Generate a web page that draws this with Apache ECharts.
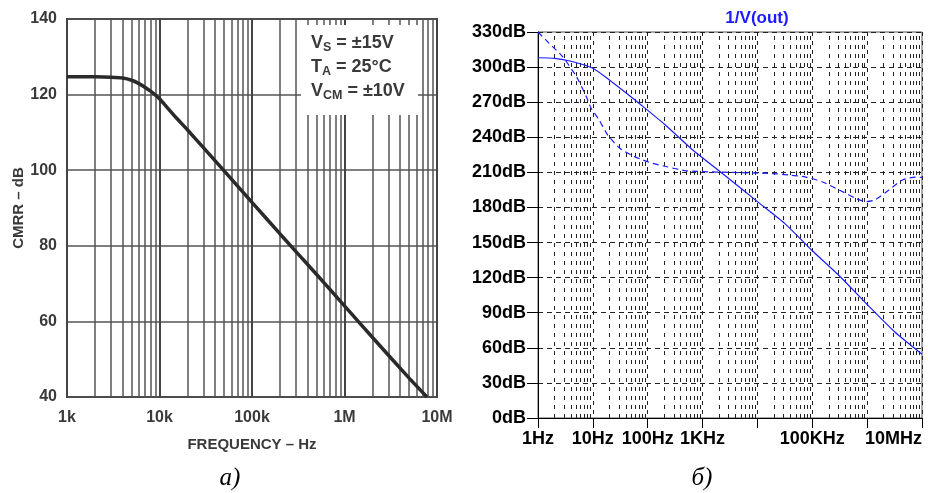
<!DOCTYPE html>
<html><head><meta charset="utf-8">
<script src="https://cdn.jsdelivr.net/npm/echarts@6/dist/echarts.min.js"></script>
<style>html,body{margin:0;padding:0;background:#fff}#c{width:928px;height:493px}</style>
</head><body><div id="c"></div>
<script>
// ---- Chart (а): CMRR vs frequency ----
const leftFreq = [1000, 2000, 3000, 4000, 5000, 6000, 7000, 8000, 9000, 10000, 12000, 15000, 20000, 30000, 50000, 100000, 200000, 500000, 1000000, 2000000, 5000000, 7800000];
const leftCmrr = [124.7, 124.7, 124.6, 124.4, 123.8, 122.9, 121.9, 120.9, 119.9, 118.9, 116.7, 114.0, 110.7, 105.9, 99.8, 91.5, 83.2, 72.4, 64.1, 55.8, 45.0, 40.0];
const leftXTicks = [1000, 10000, 100000, 1000000, 10000000];
const leftXTickLabels = ['1k', '10k', '100k', '1M', '10M'];
const leftYMin = 40, leftYMax = 140, leftYStep = 20;
const leftXName = 'FREQUENCY – Hz';
const leftYName = 'CMRR – dB';

// ---- Chart (б): 1/V(out) ----
const solidFreq = [1, 2, 4, 10, 20, 40, 100, 210, 630, 2300, 10000, 32000, 100000, 320000, 1000000, 3200000, 10000000];
const solidDb = [308, 307.5, 305, 299, 289, 278, 263, 250.5, 230, 209, 185, 166, 143, 121, 97, 73.5, 54.5];
const dashedFreq = [1, 1.6, 2.8, 5, 7.6, 9.3, 13, 18.6, 31, 50, 81, 123, 214, 500, 2000, 19000, 38000, 76000, 150000, 310000, 620000, 950000, 1400000, 2500000, 4400000, 7600000, 10000000];
const dashedDb = [330, 320.3, 309, 292, 274.7, 264.8, 254.8, 242, 230.6, 224.8, 220.6, 217.7, 215, 211.4, 210.2, 209, 207.7, 206, 202, 195, 187.8, 185, 186.5, 195, 203.5, 206, 205.7];
const rightXTicks = [1, 10, 100, 1000, 10000, 100000, 1000000, 10000000];
const rightXTickLabels = ['1Hz', '10Hz', '100Hz', '1KHz', '', '100KHz', '', '10MHz'];
const rightYMin = 0, rightYMax = 330, rightYStep = 30;
const rightTitle = '1/V(out)';

const captions = ['а)', 'б)'];

function minorValues(ticks) {
  const out = [];
  for (let i = 0; i < ticks.length - 1; i++) for (let m = 2; m <= 9; m++) out.push(ticks[i] * m);
  return out;
}
function lookup(ticks, labels) {
  return function (v) {
    for (let i = 0; i < ticks.length; i++) if (Math.abs(Math.log10(v) - Math.log10(ticks[i])) < 1e-6) return labels[i];
    return '';
  };
}
function zip(a, b) { return a.map((x, i) => [x, b[i]]); }

const sans = 'Liberation Sans, Arial, sans-serif';
const blue = '#1c1cff';
const grey = '#3a3a3a';
const richLegend = {
  m: { fontSize: 18, fontWeight: 'bold', fontFamily: sans, fill: grey, lineHeight: 22 },
  s: { fontSize: 12.5, fontWeight: 'bold', fontFamily: sans, fill: grey, lineHeight: 12, verticalAlign: 'bottom' }
};

const option = {
  animation: false,
  grid: [
    { left: 67, top: 19, width: 370, height: 378, show: true, borderColor: '#3a3a3a', borderWidth: 2, backgroundColor: 'transparent' },
    { left: 538, top: 32, width: 384, height: 386, show: true, borderColor: '#555', borderWidth: 1, backgroundColor: 'transparent' }
  ],
  xAxis: [
    {
      type: 'log', gridIndex: 0, min: leftXTicks[0], max: leftXTicks[leftXTicks.length - 1], splitNumber: 4, logBase: 10,
      axisLine: { show: false }, axisTick: { show: false },
      axisLabel: { formatter: lookup(leftXTicks, leftXTickLabels), color: grey, fontWeight: 'bold', fontSize: 16, fontFamily: sans, margin: 13 },
      splitLine: { show: true, lineStyle: { color: '#444', width: 2 } },
      name: leftXName, nameLocation: 'middle', nameGap: 40,
      nameTextStyle: { color: grey, fontWeight: 'bold', fontSize: 15, fontFamily: sans }
    },
    {
      type: 'log', gridIndex: 1, min: rightXTicks[0], max: rightXTicks[rightXTicks.length - 1], splitNumber: 7, logBase: 10,
      axisLine: { show: true, lineStyle: { color: '#000', width: 1 } },
      axisTick: { show: true, length: 10, lineStyle: { color: '#000', width: 1 } },
      axisLabel: { formatter: lookup(rightXTicks, rightXTickLabels), color: '#000', fontWeight: 'bold', fontSize: 18, fontFamily: sans, margin: 12, alignMaxLabel: 'right', showMaxLabel: true, showMinLabel: true, hideOverlap: false },
      splitLine: { show: true, lineStyle: { color: '#222', width: 1, type: [4, 5] } }
    }
  ],
  yAxis: [
    {
      type: 'value', gridIndex: 0, min: leftYMin, max: leftYMax, interval: leftYStep,
      axisLine: { show: false }, axisTick: { show: false },
      axisLabel: { color: grey, fontWeight: 'bold', fontSize: 16, fontFamily: sans, margin: 10 },
      splitLine: { show: true, lineStyle: { color: '#555', width: 1.5 } },
      name: leftYName, nameLocation: 'middle', nameGap: 41, nameRotate: 90,
      nameTextStyle: { color: grey, fontWeight: 'bold', fontSize: 15, fontFamily: sans }
    },
    {
      type: 'value', gridIndex: 1, min: rightYMin, max: rightYMax, interval: rightYStep,
      axisLine: { show: true, lineStyle: { color: '#000', width: 1 } },
      axisTick: { show: true, length: 11, lineStyle: { color: '#000', width: 1 } },
      axisLabel: { formatter: v => v + 'dB', color: '#000', fontWeight: 'bold', fontSize: 18, fontFamily: sans, margin: 12 },
      splitLine: { show: true, lineStyle: { color: '#222', width: 1, type: [5, 4] } }
    }
  ],
  series: [
    {
      type: 'line', xAxisIndex: 0, yAxisIndex: 0, data: [], z: 1, silent: true,
      markLine: { silent: true, symbol: ['none', 'none'], label: { show: false }, animation: false,
        lineStyle: { color: '#555', width: 1.5, type: 'solid' },
        data: minorValues(leftXTicks).map(v => ({ xAxis: v })) }
    },
    {
      type: 'line', xAxisIndex: 0, yAxisIndex: 0, data: zip(leftFreq, leftCmrr), z: 5,
      showSymbol: false, smooth: 0.2, lineStyle: { color: '#2a2a2a', width: 3.5 }
    },
    {
      type: 'line', xAxisIndex: 1, yAxisIndex: 1, data: [], z: 1, silent: true,
      markLine: { silent: true, symbol: ['none', 'none'], label: { show: false }, animation: false,
        lineStyle: { color: '#222', width: 1, type: [4, 5] },
        data: minorValues(rightXTicks).map(v => ({ xAxis: v })) }
    },
    {
      type: 'line', xAxisIndex: 1, yAxisIndex: 1, data: zip(solidFreq, solidDb), z: 5,
      showSymbol: false, smooth: 0.2, lineStyle: { color: blue, width: 1.2 }
    },
    {
      type: 'line', xAxisIndex: 1, yAxisIndex: 1, data: zip(dashedFreq, dashedDb), z: 5,
      showSymbol: false, smooth: 0.2, lineStyle: { color: blue, width: 1.2, type: [6, 4] }
    }
  ],
  graphic: [
    { type: 'rect', z: 100, shape: { x: 301, y: 25, width: 117, height: 90 }, style: { fill: '#fff' } },
    { type: 'text', z: 101, x: 311, y: 43, style: { text: '{m|V}{s|S}{m| = ±15V}', verticalAlign: 'middle', rich: richLegend } },
    { type: 'text', z: 101, x: 311, y: 67, style: { text: '{m|T}{s|A}{m| = 25°C}', verticalAlign: 'middle', rich: richLegend } },
    { type: 'text', z: 101, x: 311, y: 91, style: { text: '{m|V}{s|CM}{m| = ±10V}', verticalAlign: 'middle', rich: richLegend } },
    { type: 'text', z: 101, x: 757, y: 18, style: { text: rightTitle, align: 'center', verticalAlign: 'middle', fontSize: 17, fontWeight: 'bold', fontFamily: sans, fill: blue } },
    { type: 'text', z: 101, x: 230, y: 478, style: { text: captions[0], align: 'center', verticalAlign: 'middle', fontSize: 25, fontStyle: 'italic', fontFamily: 'Liberation Serif, Times New Roman, serif', fill: '#000' } },
    { type: 'text', z: 101, x: 702, y: 478, style: { text: captions[1], align: 'center', verticalAlign: 'middle', fontSize: 25, fontStyle: 'italic', fontFamily: 'Liberation Serif, Times New Roman, serif', fill: '#000' } }
  ]
};
const chart = echarts.init(document.getElementById('c'), null, { renderer: 'canvas' });
chart.setOption(option);
</script></body></html>
